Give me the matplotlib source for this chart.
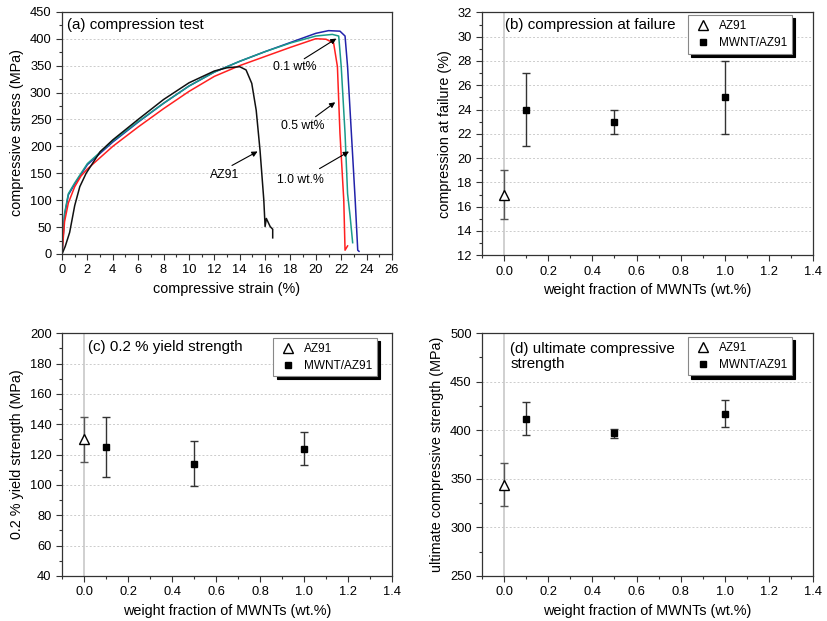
import matplotlib
matplotlib.use("Agg")
import matplotlib.pyplot as plt
from matplotlib.ticker import MultipleLocator

plt.rcParams['font.family'] = ['Liberation Sans', 'DejaVu Sans']

# ---------------- data: panel (a) stress-strain curves ----------------
az91_strain = [0, 0.25, 0.6, 1.0, 1.4, 1.9, 3, 4, 6, 8, 10, 12, 13, 14, 14.5, 14.95, 15.3, 15.6, 15.9, 16.0, 16.1, 16.4, 16.6, 16.6]
az91_stress = [0, 14, 40, 90, 125, 150, 190, 212, 250, 287, 318, 340, 346, 348, 342, 317, 267, 193, 100, 51, 66, 51, 46, 30]

red_strain = [0, 0.2, 0.5, 1.0, 1.5, 2, 4, 6, 8, 10, 12, 14, 16, 18, 20, 20.8, 21.4, 21.7, 21.9, 22.2, 22.3, 22.5]
red_stress = [0, 60, 95, 125, 145, 158, 200, 236, 270, 302, 330, 350, 367, 384, 400, 399, 392, 348, 224, 100, 7, 15]

teal_strain = [0, 0.2, 0.5, 1.0, 2, 4, 6, 8, 10, 12, 14, 16, 18, 20, 21.3, 21.8, 22.0, 22.3, 22.5, 22.7, 22.9]
teal_stress = [0, 75, 112, 132, 168, 210, 246, 280, 312, 338, 358, 376, 392, 405, 408, 405, 348, 224, 112, 70, 21]

blue_strain = [0, 0.2, 0.5, 1.0, 2, 4, 6, 8, 10, 12, 14, 16, 18, 20, 21, 21.9, 22.3, 22.5, 22.8, 23.1, 23.3, 23.4]
blue_stress = [0, 72, 110, 130, 166, 208, 245, 280, 312, 338, 358, 376, 393, 410, 415, 414, 405, 348, 224, 100, 7, 5]

# ---------------- data: panels (b)-(d) ----------------
az91_x = [0.0]
mwnt_x = [0.1, 0.5, 1.0]

fail_az91 = [17]
fail_az91_lo = [15]
fail_az91_hi = [19]
fail_mwnt = [24, 23, 25]
fail_mwnt_lo = [21, 22, 22]
fail_mwnt_hi = [27, 24, 28]

ys_az91 = [130]
ys_az91_lo = [115]
ys_az91_hi = [145]
ys_mwnt = [125, 114, 124]
ys_mwnt_lo = [105, 99, 113]
ys_mwnt_hi = [145, 129, 135]

ucs_az91 = [344]
ucs_az91_lo = [322]
ucs_az91_hi = [366]
ucs_mwnt = [412, 397, 417]
ucs_mwnt_lo = [395, 392, 403]
ucs_mwnt_hi = [429, 401, 431]

TICK_FS = 9.3
LABEL_FS = 10.4
TITLE_FS = 10.9
LEG_FS = 8.5
ANN_FS = 8.8

fig = plt.figure(figsize=(8.27, 6.21), dpi=100)

def style(ax, xmaj, xmin, ymaj, ymin):
    ax.xaxis.set_major_locator(MultipleLocator(xmaj))
    ax.xaxis.set_minor_locator(MultipleLocator(xmin))
    ax.yaxis.set_major_locator(MultipleLocator(ymaj))
    ax.yaxis.set_minor_locator(MultipleLocator(ymin))
    ax.tick_params(which='both', direction='out', top=False, right=False, labelsize=TICK_FS, color='#333333')
    ax.tick_params(which='major', length=4, width=0.8)
    ax.tick_params(which='minor', length=2.5, width=0.8)
    ax.grid(axis='y', which='major', linestyle=(0, (2, 2)), color='#cccccc', linewidth=0.7)
    ax.set_axisbelow(True)
    for s in ax.spines.values():
        s.set_color('#333333')
        s.set_linewidth(0.9)

# ---------------- panel (a) ----------------
axa = fig.add_axes([0.075, 0.591, 0.399, 0.390])
axa.plot(blue_strain, blue_stress, color='#2222aa', lw=1.1)
axa.plot(teal_strain, teal_stress, color='#1a9a8a', lw=1.1)
axa.plot(red_strain, red_stress, color='#ff2020', lw=1.1)
axa.plot(az91_strain, az91_stress, color='#111111', lw=1.1)
axa.set_xlim(0, 26)
axa.set_ylim(0, 450)
style(axa, 2, 1, 50, 25)
axa.set_xlabel('compressive strain (%)', fontsize=LABEL_FS)
axa.set_ylabel('compressive stress (MPa)', fontsize=LABEL_FS)
axa.text(0.015, 0.975, '(a) compression test', transform=axa.transAxes, fontsize=TITLE_FS, va='top', ha='left')

ann = [('0.1 wt%', (18.3, 347), (18.9, 360), (21.8, 403)),
       ('0.5 wt%', (19.0, 238), (19.8, 252), (21.7, 285)),
       ('1.0 wt.%', (18.8, 137), (20.1, 156), (22.8, 193)),
       ('AZ91', (12.8, 147), (13.2, 162), (15.6, 193))]
for txt, tpos, start, end in ann:
    axa.text(tpos[0], tpos[1], txt, fontsize=ANN_FS, ha='center', va='center')
    axa.annotate('', xy=end, xytext=start,
                 arrowprops=dict(arrowstyle='-|>', color='black', lw=0.8, mutation_scale=8))

# ---------------- scatter panels ----------------
def scatter_panel(rect, az_y, az_lo, az_hi, mw_y, mw_lo, mw_hi, ylim, ymaj, ymin, ylabel, title, ty, leg_anchor):
    ax = fig.add_axes(rect)
    ax.axvline(0, color='#c8c8c8', lw=1.2, zorder=1)
    az_err = [[v - l for v, l in zip(az_y, az_lo)], [h - v for v, h in zip(az_y, az_hi)]]
    mw_err = [[v - l for v, l in zip(mw_y, mw_lo)], [h - v for v, h in zip(mw_y, mw_hi)]]
    ax.errorbar(az91_x, az_y, yerr=az_err, fmt='^', mfc='white', mec='black', mew=1.0, ms=6.5,
                ecolor='#555555', elinewidth=1.0, capsize=3, capthick=1.0, label='AZ91', zorder=3)
    ax.errorbar(mwnt_x, mw_y, yerr=mw_err, fmt='s', mfc='black', mec='black', ms=5,
                ecolor='#333333', elinewidth=1.0, capsize=3, capthick=1.0, label='MWNT/AZ91', zorder=3)
    ax.set_xlim(-0.1, 1.4)
    ax.set_ylim(*ylim)
    style(ax, 0.2, 0.1, ymaj, ymin)
    ax.set_xlabel('weight fraction of MWNTs (wt.%)', fontsize=LABEL_FS)
    ax.set_ylabel(ylabel, fontsize=LABEL_FS)
    ax.text(title[1], ty, title[0], transform=ax.transAxes, fontsize=TITLE_FS, va='top', ha='left', linespacing=1.1)
    handles, labels = ax.get_legend_handles_labels()
    handles = [h[0] for h in handles]
    leg = ax.legend(handles, labels, loc='upper right', bbox_to_anchor=leg_anchor, fontsize=LEG_FS,
                    frameon=True, fancybox=False, shadow={'color': 'black', 'alpha': 1.0, 'ox': 2.2, 'oy': -2.2},
                    borderpad=0.4, handletextpad=0.6, labelspacing=0.4, handlelength=1.6, borderaxespad=0)
    leg.get_frame().set_edgecolor('#888888')
    leg.get_frame().set_linewidth(0.8)
    leg.get_frame().set_alpha(1.0)
    return ax

scatter_panel([0.583, 0.589, 0.400, 0.391], fail_az91, fail_az91_lo, fail_az91_hi,
              fail_mwnt, fail_mwnt_lo, fail_mwnt_hi, (12, 32), 2, 1,
              'compression at failure (%)', ('(b) compression at failure', 0.07), 0.975, (0.937, 0.988))
scatter_panel([0.075, 0.0725, 0.399, 0.391], ys_az91, ys_az91_lo, ys_az91_hi,
              ys_mwnt, ys_mwnt_lo, ys_mwnt_hi, (40, 200), 20, 10,
              '0.2 % yield strength (MPa)', ('(c) 0.2 % yield strength', 0.079), 0.971, (0.955, 0.979))
scatter_panel([0.583, 0.0725, 0.400, 0.391], ucs_az91, ucs_az91_lo, ucs_az91_hi,
              ucs_mwnt, ucs_mwnt_lo, ucs_mwnt_hi, (250, 500), 50, 25,
              'ultimate compressive strength (MPa)', ('(d) ultimate compressive\nstrength', 0.085), 0.963, (0.937, 0.983))

fig.savefig('out.png', dpi=100)
